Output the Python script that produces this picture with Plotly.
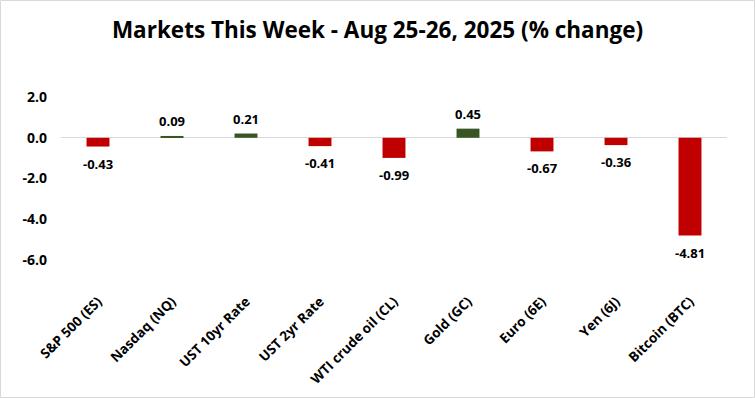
import plotly.graph_objects as go

categories = ["S&P 500 (ES)", "Nasdaq (NQ)", "UST 10yr Rate", "UST 2yr Rate",
              "WTI crude oil (CL)", "Gold (GC)", "Euro (6E)", "Yen (6J)", "Bitcoin (BTC)"]
values = [-0.43, 0.09, 0.21, -0.41, -0.99, 0.45, -0.67, -0.36, -4.81]
tick_vals = [2, 0, -2, -4, -6]
tick_text = ["2.0", "0.0", "-2.0", "-4.0", "-6.0"]

RED = "#C00000"
GREEN = "#375623"
colors = [GREEN if v >= 0 else RED for v in values]

W, H = 755, 398
L, R, T, B = 61, 28, 87, 118
pw, ph = W - L - R, H - T - B

fig = go.Figure(go.Bar(
    x=categories, y=values, marker_color=colors, marker_line_width=0,
    cliponaxis=False, width=0.31, hoverinfo="x+y",
))

for c, v in zip(categories, values):
    fig.add_annotation(
        x=c, y=v, text=f"<b>{v:.2f}</b>", showarrow=False,
        xanchor="center", yanchor="middle", yshift=15 if v >= 0 else -17,
        font=dict(family="Open Sans", size=13, color="#000000"),
    )

fig.update_layout(
    width=W, height=H,
    margin=dict(l=L, r=R, t=T, b=B),
    paper_bgcolor="white", plot_bgcolor="white",
    title=dict(text="<b>Markets This Week - Aug 25-26, 2025 (% change)</b>",
               x=0.5, xanchor="center", y=1 - 30 / H, yanchor="middle",
               font=dict(family="Open Sans", size=22.5, color="#000000")),
    showlegend=False,
    xaxis=dict(tickangle=-45, showline=False, showgrid=False, ticks="", automargin=False,
               ticklabelstandoff=10,
               tickfont=dict(family="Open Sans", size=13.5, color="#000000", weight="bold")),
    yaxis=dict(range=[-7, 2.5], tickvals=tick_vals, ticktext=tick_text, automargin=False,
               showgrid=False, zeroline=True, zerolinecolor="#D9D9D9", zerolinewidth=1,
               showline=False, ticks="", ticklabelstandoff=13,
               tickfont=dict(family="Open Sans", size=14, color="#000000", weight="bold")),
    shapes=[dict(type="rect", xref="paper", yref="paper",
                 x0=(0.5 - L) / pw, x1=(W - 0.5 - L) / pw,
                 y0=-(B - 0.5) / ph, y1=(ph + T - 0.5) / ph,
                 line=dict(color="#D9D9D9", width=1), fillcolor="rgba(0,0,0,0)")],
)

fig.write_html("out.html", config={"displayModeBar": False},
               post_script="document.body.style.margin='0';document.body.style.overflow='hidden';")
